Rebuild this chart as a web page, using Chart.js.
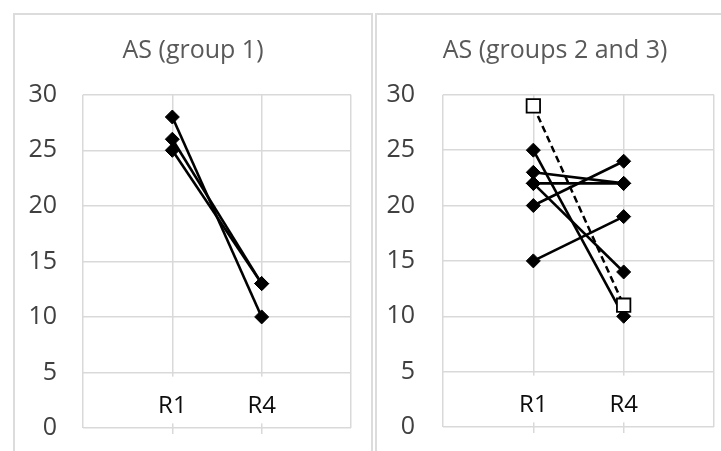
<!DOCTYPE html>
<html><head><meta charset="utf-8">
<script src="https://cdn.jsdelivr.net/npm/chart.js@4/dist/chart.umd.min.js"></script>
<style>
html,body{margin:0;padding:0;background:#fff;overflow:hidden;width:721px;height:451px;}
.panel{position:absolute;box-sizing:border-box;border:2px solid #dcdcdc;background:#fff;}
.cv{position:absolute;}
</style></head><body>
<div class="panel" style="left:13px;top:13px;width:360px;height:470px;"></div>
<div class="panel" style="left:375px;top:13px;width:380px;height:470px;"></div>
<div class="cv" style="left:15px;top:14px;"><canvas id="c1" width="356" height="437"></canvas></div>
<div class="cv" style="left:377px;top:14px;"><canvas id="c2" width="356" height="437"></canvas></div>
<script>
// ---- data ----
const categories = ['R1', 'R4'];
const yMin = 0, yMax = 30, yStep = 5;
const title1 = 'AS (group 1)';
const title2 = 'AS (groups 2 and 3)';
const group1A = [28, 10];
const group1B = [26, 13];
const group1C = [25, 13];
const group23A = [25, 10];
const group23B = [23, 22];
const group23C = [22, 22];
const group23D = [22, 14];
const group23E = [20, 24];
const group23F = [15, 19];
const group23Open = [29, 11];

const FONT = "'Open Sans', 'Noto Sans', sans-serif";
const labels = [''].concat(categories, ['']);
const pad = arr => [null].concat(arr, [null]);
const isCat = i => i > 0 && i < labels.length - 1;

function solid(arr) {
  return { data: pad(arr), order: 1, borderColor: '#000', borderWidth: 2.6,
    pointStyle: 'rectRot', pointRadius: 7, pointBackgroundColor: '#000',
    pointBorderColor: '#000', pointBorderWidth: 1, tension: 0 };
}
function open(arr) {
  return { data: pad(arr), order: 0, borderColor: '#000', borderWidth: 2.5, borderDash: [7, 4],
    pointStyle: 'rect', pointRadius: 9.5, pointBackgroundColor: '#fff',
    pointBorderColor: '#000', pointBorderWidth: 1.8, tension: 0 };
}

function makeChart(id, title, datasets, g) {
  return new Chart(document.getElementById(id), {
    type: 'line',
    data: { labels: labels, datasets: datasets },
    options: {
      responsive: false, animation: false,
      layout: { padding: { left: 0, right: 0, top: 0, bottom: 0 } },
      plugins: {
        legend: { display: false }, tooltip: { enabled: false },
        title: { display: true, text: title, color: '#595959',
          font: { family: FONT, size: 25, weight: 'normal' },
          padding: { top: 22, bottom: 28.8 } }
      },
      scales: {
        x: {
          type: 'category', offset: false,
          afterFit: s => { s.height = g.xHeight; },
          border: { display: false },
          grid: { color: '#d9d9d9', lineWidth: 1.5, tickLength: 6,
            tickColor: c => isCat(c.index) ? '#d9d9d9' : 'rgba(0,0,0,0)' },
          ticks: {
            autoSkip: false, maxRotation: 0, minRotation: 0, mirror: true,
            color: '#0d0d0d', font: { family: FONT, size: 24 }, padding: 7.6,
            showLabelBackdrop: c => isCat(c.index), backdropColor: '#ffffff',
            backdropPadding: { top: 15, bottom: 3, left: 2, right: 2 }
          }
        },
        y: {
          min: yMin, max: yMax,
          afterFit: s => { s.width = g.yWidth; },
          border: { display: false },
          grid: { color: '#d9d9d9', lineWidth: 1.5, drawTicks: true,
            tickLength: g.tickGap, tickColor: 'rgba(0,0,0,0)' },
          ticks: { stepSize: yStep, color: '#404040',
            font: { family: FONT, size: 25 }, padding: 0 }
        },
        yRight: {
          position: 'right', display: true,
          afterFit: s => { s.width = g.rightGap; },
          border: { display: false },
          grid: { display: false, drawTicks: false },
          ticks: { display: false, padding: 0 }
        }
      }
    }
  });
}

makeChart('c1', title1,
  [solid(group1A), solid(group1B), solid(group1C)],
  { rightGap: 20, xHeight: 23, yWidth: 68, tickGap: 26 });

makeChart('c2', title2,
  [open(group23Open), solid(group23A), solid(group23B), solid(group23C),
   solid(group23D), solid(group23E), solid(group23F)],
  { rightGap: 19, xHeight: 24, yWidth: 66, tickGap: 28 });
</script>
</body></html>
